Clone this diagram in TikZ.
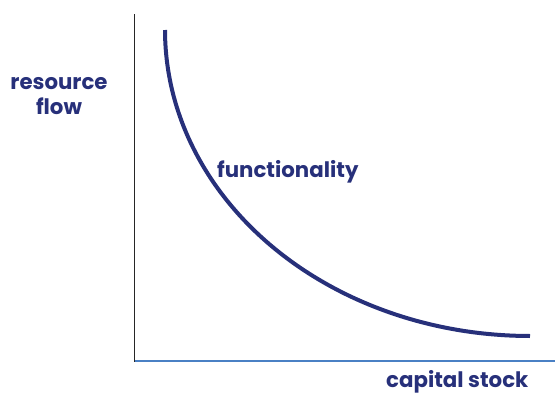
\documentclass[tikz,border=0pt]{standalone}
\usepackage{fontspec}
\setmainfont{Poppins}
\usepackage{xcolor}
\usepackage{tikz}
\usetikzlibrary{positioning,calc}

\definecolor{navy}{HTML}{27307A}
\definecolor{axisblue}{HTML}{4A80C4}

\begin{document}
\begin{tikzpicture}[x=1pt,y=-1pt,
        lbl/.style={font=\fontsize{21.3}{25}\selectfont\bfseries, text=navy, inner sep=0pt}]
            \useasboundingbox (0,0) rectangle (555,392);

            % Axes
            \coordinate (origin) at (134.5,360.5);
            \coordinate (ytop) at (134.5,14);
            \coordinate (xend) at (555,360.5);
            \draw[line width=1.3pt, black!85] (ytop) -- (134.5,362);
            \draw[line width=2pt, axisblue] (origin) -- (xend);

            % Curve (quarter ellipse)
            \coordinate (cstart) at (165,30);
            \coordinate (cend) at (530,336);
            \draw[line width=4pt, navy, samples=100, domain=180:90] plot ({530+365*cos(\x)}, {30+306*sin(\x)});

            % Labels
            \node[lbl, align=center] (flowlbl) at (59,96) {resource\\flow};
            \node[lbl, anchor=base west] (funclbl) at (217,177) {functionality};
            \node[lbl, anchor=base west] (stocklbl) at (386,387) {capital stock};
        \end{tikzpicture}
\end{document}
